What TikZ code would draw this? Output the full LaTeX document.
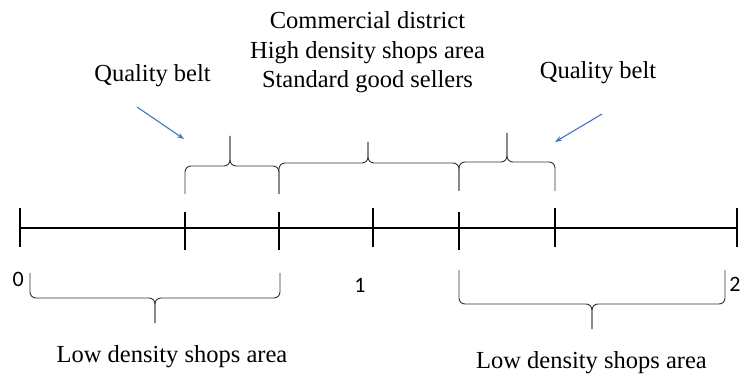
\documentclass[tikz,border=0pt]{standalone}
\usepackage{fontspec}
\setmainfont{Liberation Serif}
\newfontfamily\digitfont{Carlito}
\usetikzlibrary{arrows.meta}
\definecolor{arrowblue}{HTML}{4472C4}
\begin{document}
\begin{tikzpicture}[x=1pt,y=-1pt,
  axisline/.style={line width=1.6pt},
  tickmark/.style={line width=1.1pt},
  bracepath/.style={line width=0.9pt, draw=black!80, rounded corners=6pt},
  lbl/.style={font=\fontsize{24.5}{29.5}\selectfont, inner sep=0pt, anchor=base},
  num/.style={font=\digitfont\fontsize{22}{26}\selectfont, inner sep=0pt, anchor=base},
  pointer/.style={draw=arrowblue, line width=1.1pt, -{Stealth[length=7pt,width=5pt]}}]
\useasboundingbox (0,0) rectangle (742,374);

% axis
\coordinate (a0) at (20,228);
\coordinate (a1) at (737,228);
\draw[axisline] (a0) -- (a1);

% ticks
\draw[tickmark] (20,208) -- (20,247);
\draw[tickmark] (185,212) -- (185,250);
\draw[tickmark] (279,212) -- (279,250);
\draw[tickmark] (373,208) -- (373,247);
\draw[tickmark] (459,212) -- (459,250);
\draw[tickmark] (555,208) -- (555,247);
\draw[tickmark] (737,208) -- (737,247);

% upper braces
\draw[bracepath] (185,194) |- (230,166) -- (230,136);
\draw[bracepath] (279,194) |- (230,166) -- (230,136);
\draw[bracepath] (279,194) |- (368,163) -- (368,142);
\draw[bracepath] (459,191) |- (368,163) -- (368,142);
\draw[bracepath] (459,191) |- (507,162) -- (507,133);
\draw[bracepath] (555,191) |- (507,162) -- (507,133);

% lower braces
\draw[bracepath] (30,273) |- (155,298) -- (155,323);
\draw[bracepath] (280,273) |- (155,298) -- (155,323);
\draw[bracepath] (459,270) |- (592,304) -- (592,329);
\draw[bracepath] (725,270) |- (592,304) -- (592,329);

% labels
\node[lbl] (qbl) at (152.5,82) {Quality belt};
\node[lbl] (qbr) at (598,78.3) {Quality belt};
\node[lbl] (cd1) at (367.5,28.3) {Commercial district};
\node[lbl] (cd2) at (367.5,58.3) {High density shops area};
\node[lbl] (cd3) at (367.5,87.3) {Standard good sellers};
\node[lbl] (ldl) at (172,362) {Low density shops area};
\node[lbl] (ldr) at (591.5,368) {Low density shops area};

% numbers
\node[num] (n0) at (18.3,286.7) {0};
\node[num] (n1) at (360,293) {1};
\node[num] (n2) at (735,291.7) {2};

% arrows
\coordinate (pl0) at (137,107);
\coordinate (pl1) at (184,139);
\coordinate (pr0) at (602,114);
\coordinate (pr1) at (555,142);
\draw[pointer] (pl0) -- (pl1);
\draw[pointer] (pr0) -- (pr1);
\end{tikzpicture}
\end{document}
